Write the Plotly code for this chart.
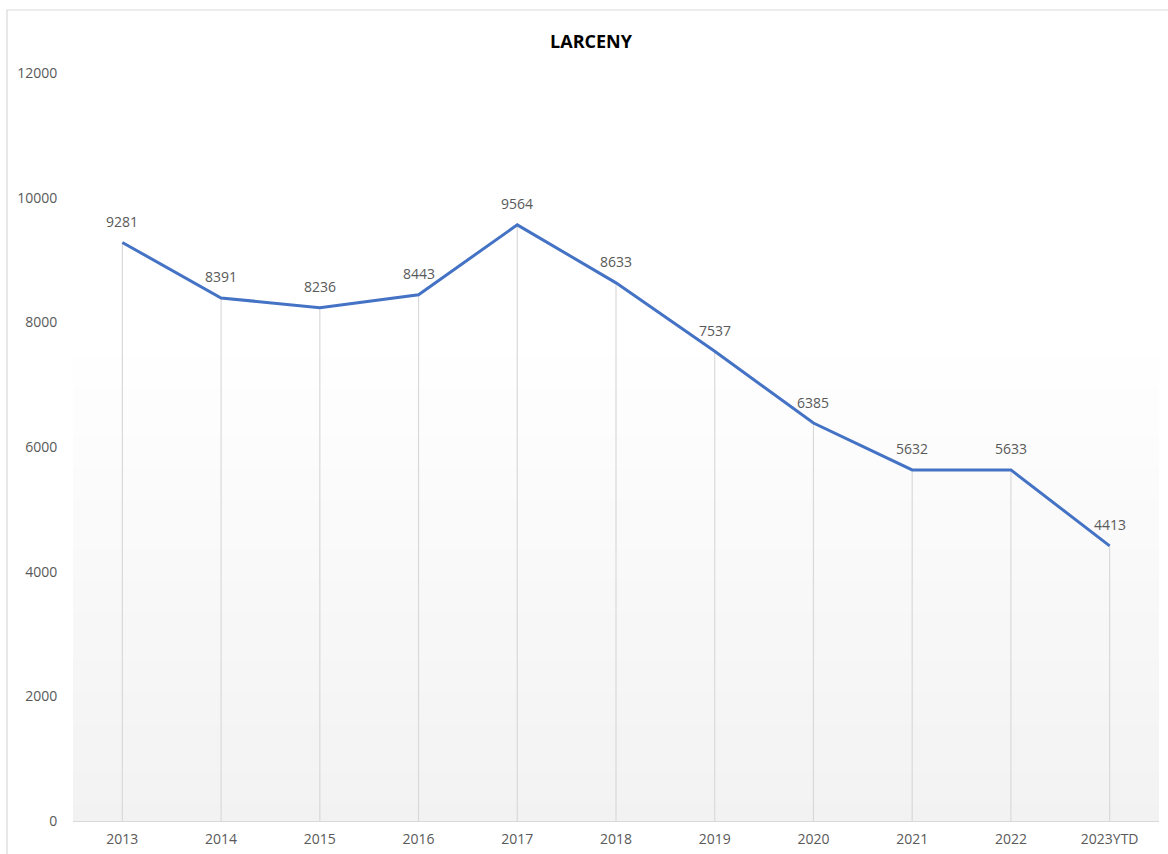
import plotly.graph_objects as go

years = ["2013", "2014", "2015", "2016", "2017", "2018", "2019", "2020", "2021", "2022", "2023YTD"]
larceny = [9281, 8391, 8236, 8443, 9564, 8633, 7537, 6385, 5632, 5633, 4413]
y_ticks = [0, 2000, 4000, 6000, 8000, 10000, 12000]

FONT = "Open Sans, Noto Sans, sans-serif"

fig = go.Figure()
fig.add_trace(go.Scatter(
    x=years, y=larceny, mode="lines",
    line=dict(color="#4472C4", width=3),
    error_y=dict(type="data", symmetric=False, array=[0] * len(larceny),
                 arrayminus=larceny, color="#d9d9d9", thickness=1.2, width=0),
    showlegend=False, hoverinfo="x+y",
))

# data labels (category index positions on the category axis)
annotations = [
    dict(x=i, y=v, xref="x", yref="y", text=str(v), showarrow=False, yshift=21,
         font=dict(family=FONT, size=14, color="#595959"))
    for i, v in enumerate(larceny)
]

shapes = []
# subtle vertical gradient in the plot area (white -> light gray)
n = 30
top = 7700 / 12000
for i in range(n):
    y0 = top * i / n
    y1 = top * (i + 1) / n
    t = (i + 0.5) / n
    c = int(round(242 + (255 - 242) * t))
    shapes.append(dict(type="rect", xref="paper", yref="paper", x0=0, x1=1, y0=y0, y1=y1,
                       fillcolor=f"rgb({c},{c},{c})", line=dict(width=0), layer="below"))
# outer chart border
shapes.append(dict(type="rect", xref="paper", yref="paper", x0=-0.0608, x1=1.02, y0=-0.1, y1=1.0842,
                   line=dict(color="#d9d9d9", width=1.2), fillcolor="rgba(0,0,0,0)", layer="below"))

fig.update_layout(
    width=1168, height=854,
    margin=dict(l=73, r=9, t=73, b=33, autoexpand=False),
    paper_bgcolor="white", plot_bgcolor="rgba(0,0,0,0)",
    title=dict(text="<b>LARCENY</b>", x=591 / 1168, xref="container", xanchor="center", y=1 - 42 / 854,
               yanchor="middle", yref="container",
               font=dict(family=FONT, size=18, color="#000000")),
    shapes=shapes, annotations=annotations,
    font=dict(family=FONT, size=14, color="#595959"),
)
fig.update_xaxes(type="category", showgrid=False, showline=True, linecolor="#d9d9d9", linewidth=1.2,
                 ticks="outside", ticklen=5, tickcolor="rgba(0,0,0,0)",
                 tickfont=dict(size=14, color="#595959"), range=[-0.5, 10.5],
                 automargin=False)
fig.update_yaxes(range=[0, 12000], tickvals=y_ticks, ticktext=[str(v) for v in y_ticks],
                 showgrid=False, zeroline=False, showline=False,
                 ticks="outside", ticklen=12, tickcolor="rgba(0,0,0,0)",
                 tickfont=dict(size=14, color="#595959"), automargin=False)

fig.write_html("out.html", config={"displayModeBar": False},
               post_script="document.body.style.margin='0px';document.body.style.overflow='hidden';")
